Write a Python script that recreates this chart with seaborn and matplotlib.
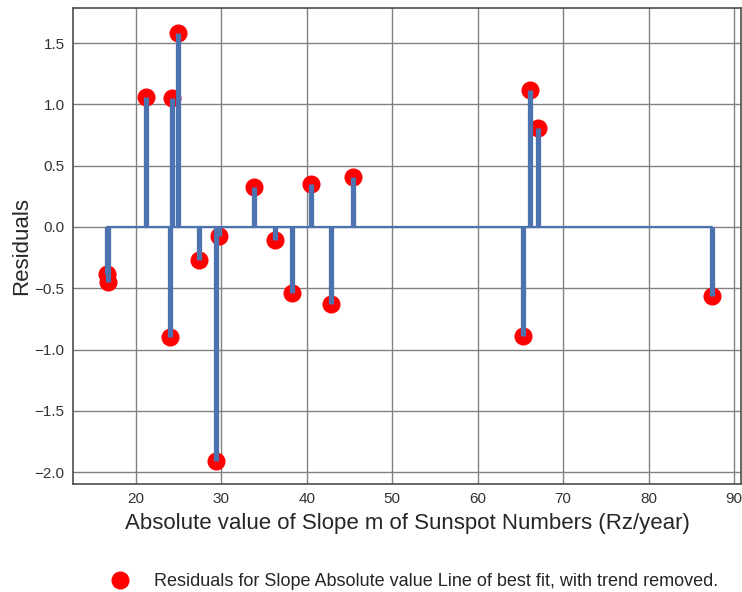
import matplotlib
matplotlib.use("Agg")
import matplotlib.pyplot as plt
import seaborn as sns
import numpy as np

slope_abs = [16.58, 16.77, 21.2, 23.97, 24.17, 24.87, 27.36, 29.35, 29.7,
             33.8, 36.3, 38.26, 40.5, 42.8, 45.4, 65.25, 66.1, 67.05, 87.37]
residuals = [-0.38, -0.45, 1.06, -0.895, 1.05, 1.58, -0.27, -1.906, -0.075,
             0.33, -0.11, -0.535, 0.35, -0.63, 0.41, -0.886, 1.12, 0.805, -0.56]

xlabel = "Absolute value of Slope m of Sunspot Numbers (Rz/year)"
ylabel = "Residuals"
legend_label = "Residuals for Slope Absolute value Line of best fit, with trend removed."

sns.set_theme(style="white")
plt.rcParams['font.family'] = ['Liberation Sans', 'DejaVu Sans']
plt.rcParams['axes.edgecolor'] = '0.3'
plt.rcParams['axes.linewidth'] = 1.2

fig = plt.figure(figsize=(7.42, 5.92), dpi=100)
ax = fig.add_axes([0.0984, 0.1824, 0.9003, 0.8041])

blue = sns.color_palette("deep")[0]
markerline, stemlines, baseline = ax.stem(slope_abs, residuals)
plt.setp(markerline, color='red', marker='o', markersize=12, zorder=2,
         label=legend_label)
plt.setp(stemlines, color=blue, linewidth=3.8, zorder=3)
plt.setp(baseline, color=blue, linewidth=1.6, zorder=3)

ax.set_xlim(12.63, 90.82)
ax.set_ylim(-2.096, 1.786)
ax.grid(True, color='0.5', linewidth=1)
ax.set_axisbelow(True)
ax.tick_params(axis='both', labelsize=11, colors='0.2', length=0, pad=6)
ax.set_xlabel(xlabel, fontsize=16, color='0.15', labelpad=5)
ax.set_ylabel(ylabel, fontsize=16, color='0.15', labelpad=2)
ax.set_xticks([20, 30, 40, 50, 60, 70, 80, 90])
ax.set_yticks([-2.0, -1.5, -1.0, -0.5, 0.0, 0.5, 1.0, 1.5])

fig.legend(handles=[markerline], labels=[legend_label], loc='center',
           bbox_to_anchor=(0.553, 0.017), frameon=False, fontsize=13,
           handletextpad=0.9, markerscale=1.0)

fig.savefig("out.png", dpi=100)
